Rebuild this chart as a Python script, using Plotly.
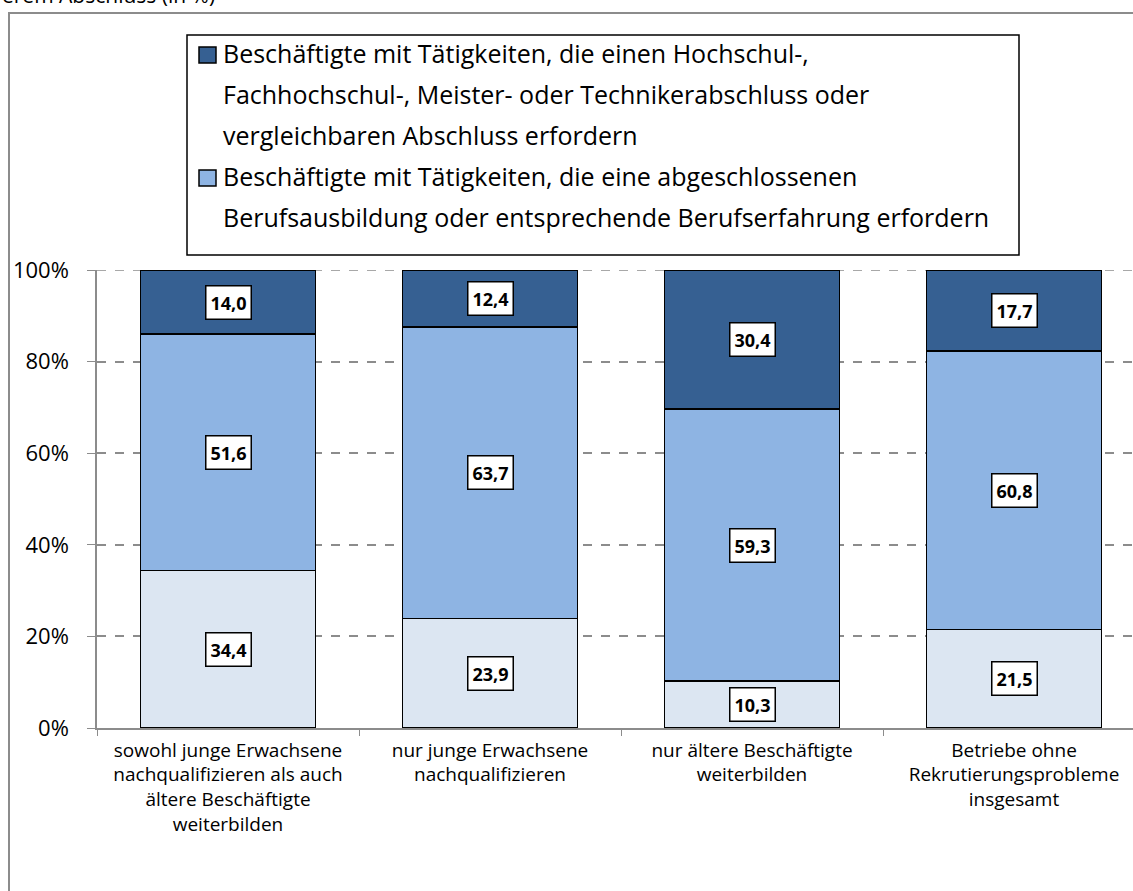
import plotly.graph_objects as go

categories = [
    "sowohl junge Erwachsene<br>nachqualifizieren als auch<br>ältere Beschäftigte<br>weiterbilden",
    "nur junge Erwachsene<br>nachqualifizieren",
    "nur ältere Beschäftigte<br>weiterbilden",
    "Betriebe ohne<br>Rekrutierungsprobleme<br>insgesamt",
]
series_names = [
    "Beschäftigte mit einfachen Tätigkeiten",
    "Beschäftigte mit Tätigkeiten, die eine abgeschlossenen Berufsausbildung oder entsprechende Berufserfahrung erfordern",
    "Beschäftigte mit Tätigkeiten, die einen Hochschul-, Fachhochschul-, Meister- oder Technikerabschluss oder vergleichbaren Abschluss erfordern",
]
light_values = [34.4, 23.9, 10.3, 21.5]
mid_values = [51.6, 63.7, 59.3, 60.8]
dark_values = [14.0, 12.4, 30.4, 17.7]
y_ticks = [0, 20, 40, 60, 80, 100]
y_tick_labels = ["0%", "20%", "40%", "60%", "80%", "100%"]

legend_lines_dark = [
    "Beschäftigte mit Tätigkeiten, die einen Hochschul-,",
    "Fachhochschul-, Meister- oder Technikerabschluss oder",
    "vergleichbaren Abschluss erfordern",
]
legend_lines_mid = [
    "Beschäftigte mit Tätigkeiten, die eine abgeschlossenen",
    "Berufsausbildung oder entsprechende Berufserfahrung erfordern",
]
top_text = "erem Abschluss (in %)"

colors = ["#DCE6F2", "#8EB4E3", "#366092"]
FONT = "Open Sans, Lato, sans-serif"

W, H = 1133, 891
L, R, T, B = 97, 1133, 270, 728  # plot area in page pixels
pw, ph = R - L, B - T


def px(x):
    return (x - L) / pw


def py(y):
    return (B - y) / ph


fig = go.Figure()
all_series = [light_values, mid_values, dark_values]
for name, vals, col in zip(series_names, all_series, colors):
    fig.add_trace(go.Bar(
        x=categories, y=vals, name=name, marker_color=col,
        marker_line_color="black", marker_line_width=1.5,
        width=0.667, showlegend=False, hoverinfo="skip",
    ))

annotations = []
# data labels
for i, cat in enumerate(categories):
    base = 0
    for vals in all_series:
        v = vals[i]
        annotations.append(dict(
            x=cat, y=base + v / 2, xref="x", yref="y",
            text="<b>" + f"{v:.1f}".replace(".", ",") + "</b>",
            showarrow=False, bgcolor="white", bordercolor="black",
            borderwidth=1.5, borderpad=4,
            font=dict(family=FONT, size=18, color="black"),
        ))
        base += v

shapes = []
# gridline at 100 %
shapes.append(dict(type="line", xref="paper", yref="y", x0=0, x1=1, y0=100, y1=100,
                   line=dict(color="#8C8C8C", width=1.5, dash="dash"), layer="below"))
# legend box (Excel style)
shapes.append(dict(type="rect", xref="paper", yref="paper",
                   x0=px(187), x1=px(1019), y0=py(255), y1=py(35),
                   line=dict(color="black", width=1.5), fillcolor="white", layer="below"))
# chart frame
shapes.append(dict(type="rect", xref="paper", yref="paper",
                   x0=px(9), x1=px(1145), y0=py(905), y1=py(13),
                   line=dict(color="#8C8C8C", width=2), fillcolor="rgba(0,0,0,0)", layer="below"))
line_y0 = 53
spacing = 41
swatch_y = [line_y0 + 2, line_y0 + 3 * spacing + 2]
for sy, col in zip(swatch_y, [colors[2], colors[1]]):
    shapes.append(dict(type="rect", xref="paper", yref="paper",
                       x0=px(199), x1=px(216), y0=py(sy + 8), y1=py(sy - 8),
                       line=dict(color="black", width=1.5), fillcolor=col))
for k, txt in enumerate(legend_lines_dark + legend_lines_mid):
    annotations.append(dict(
        x=px(221), y=py(line_y0 + k * spacing), xref="paper", yref="paper",
        xanchor="left", yanchor="middle", text=txt, showarrow=False,
        font=dict(family=FONT, size=25, color="black"),
    ))

annotations.append(dict(
    x=px(0), y=py(11), xref="paper", yref="paper", xanchor="left", yanchor="bottom",
    text=top_text, showarrow=False, font=dict(family=FONT, size=21, color="black"),
))

fig.update_layout(
    barmode="stack",
    width=W, height=H,
    margin=dict(l=L, r=W - R, t=T, b=H - B, pad=0),
    paper_bgcolor="white", plot_bgcolor="white",
    annotations=annotations, shapes=shapes,
    showlegend=False,
    font=dict(family=FONT, color="black"),
)
fig.update_xaxes(
    range=[-0.5, -0.5 + pw / 262.0],
    showline=True, linecolor="#8C8C8C", linewidth=1.5,
    ticks="outside", tickson="boundaries", ticklen=6, tickcolor="#8C8C8C",
    tickfont=dict(family=FONT, size=19, color="black"),
    ticklabelstandoff=4,
    showgrid=False,
)
fig.update_yaxes(
    range=[0, 100], tickvals=y_ticks, ticktext=y_tick_labels,
    showline=True, linecolor="#8C8C8C", linewidth=1.5,
    ticks="outside", ticklen=8, tickcolor="#8C8C8C",
    tickfont=dict(family=FONT, size=22, color="black"),
    ticklabelstandoff=14,
    showgrid=True, gridcolor="#8C8C8C", griddash="dash", gridwidth=1.5,
    zeroline=False,
)

fig.write_html("out.html", config={"displayModeBar": False},
               post_script="document.body.style.margin='0px';")
